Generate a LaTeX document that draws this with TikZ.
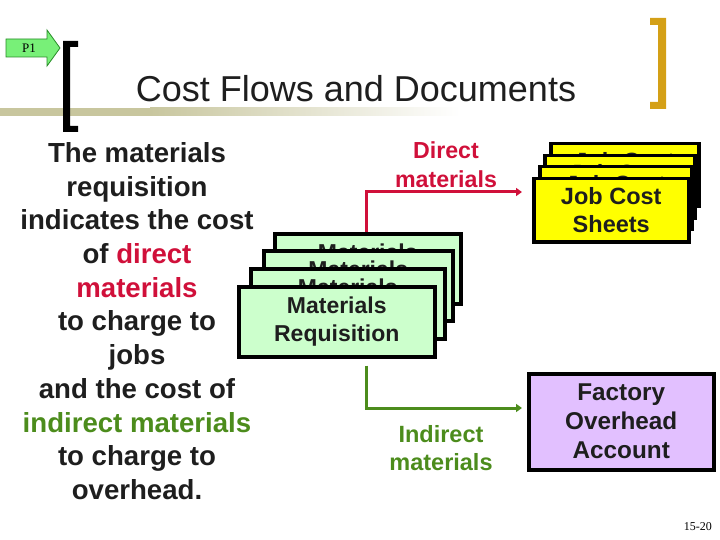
\documentclass[tikz,border=0pt]{standalone}
\usepackage{fontspec}
\setmainfont{Liberation Sans}
\newfontfamily\serifface{Liberation Serif}
\usetikzlibrary{arrows.meta}
\definecolor{crimsonc}{RGB}{208,16,58}
\definecolor{leafc}{RGB}{76,140,28}
\definecolor{matfill}{RGB}{204,255,204}
\definecolor{jobfill}{RGB}{255,255,0}
\definecolor{fohfill}{RGB}{226,192,255}
\definecolor{olivec}{RGB}{200,198,158}
\definecolor{goldc}{RGB}{212,160,23}
\definecolor{inkc}{RGB}{30,30,30}
\definecolor{pfill}{RGB}{120,240,120}
\definecolor{pdraw}{RGB}{40,140,40}
\begin{document}
\begin{tikzpicture}[x=1pt,y=-1pt,
  docbox/.style={draw=black, line width=3.5pt, anchor=north west, inner sep=0pt,
    align=center, text=inkc},
  matdoc/.style={docbox, fill=matfill, minimum height=70pt,
    font=\bfseries\fontsize{23}{28}\selectfont},
  jobdoc/.style={docbox, fill=jobfill, minimum height=63pt,
    font=\bfseries\fontsize{23.5}{28}\selectfont},
  fohdoc/.style={docbox, fill=fohfill, minimum height=96pt, minimum width=185pt,
    font=\bfseries\fontsize{24.3}{29}\selectfont},
  flowred/.style={draw=crimsonc, line width=3pt, -{Triangle[length=6pt,width=8pt]}},
  flowgreen/.style={draw=leafc, line width=3pt, -{Triangle[length=6pt,width=8pt]}},
  lbl/.style={inner sep=0pt, anchor=north, align=center}
]
\useasboundingbox (0,0) rectangle (720,540);

% title rule
\fill[olivec] (0,108) rectangle (150,116);
\shade[left color=olivec, right color=white] (150,108) rectangle (460,116);

% brackets
\fill[black] (63,41) -- (78,41) -- (78,47) -- (70,47) -- (70,126) -- (78,126)
  -- (78,132) -- (63,132) -- cycle;
\fill[goldc] (650,18) -- (666,18) -- (666,109) -- (650,109) -- (650,102)
  -- (658,102) -- (658,25) -- (650,25) -- cycle;

% P1 marker
\draw[fill=pfill, draw=pdraw, line width=0.8pt] (6,39) -- (47,39) -- (47,30)
  -- (60,48) -- (47,66) -- (47,57) -- (6,57) -- cycle;
\node[inner sep=0pt, anchor=base, font=\serifface\fontsize{13}{15}\selectfont]
  (p1) at (29,52.5) {P1};

% title
\node[inner sep=0pt, anchor=base, font=\fontsize{36}{43}\selectfont, text=inkc]
  (title) at (356,101.5) {Cost Flows and Documents};

% left explanatory text
\node[lbl, text=inkc, font=\bfseries\fontsize{27.6}{33.7}\selectfont]
  (expl) at (137,142.2) {The materials\\ requisition\\ indicates the cost\\
  of \textcolor{crimsonc}{direct}\\ \textcolor{crimsonc}{materials}\\
  to charge to\\ jobs\\ and the cost of\\
  \textcolor{leafc}{indirect materials}\\ to charge to\\ overhead.};

% materials requisition stack
\node[matdoc, minimum width=186pt] (mat4) at (273,232) {Materials\\ Requisition};
\node[matdoc, minimum width=189pt] (mat3) at (262,249) {Materials\\ Requisition};
\node[matdoc, minimum width=194pt] (mat2) at (249,267) {Materials\\ Requisition};
\node[matdoc, minimum width=196pt] (mat1) at (237,285) {Materials\\ Requisition};

% job cost sheet stack
\node[jobdoc, minimum width=148pt] (job4) at (549,142) {Job Cost\\ Sheets};
\node[jobdoc, minimum width=150pt] (job3) at (543,154) {Job Cost\\ Sheets};
\node[jobdoc, minimum width=152pt] (job2) at (538,165) {Job Cost\\ Sheets};
\node[jobdoc, minimum width=155pt] (job1) at (532,177) {Job Cost\\ Sheets};

% factory overhead
\node[fohdoc] (foh) at (527,372) {Factory\\ Overhead\\ Account};

% flows
\coordinate (dtip) at (522,192);
\coordinate (itip) at (522,408);
\draw[flowred] ([xshift=93pt]mat4.north west) |- (dtip);
\draw[flowgreen] ([xshift=129pt,yshift=-7pt]mat1.south west) |- (itip);

\node[lbl, text=crimsonc, font=\bfseries\fontsize{23.2}{29}\selectfont]
  (dlab) at (446,141.4) {Direct\\ materials};
\node[lbl, text=leafc, font=\bfseries\fontsize{23.5}{28}\selectfont]
  (ilab) at (441,425.2) {Indirect\\ materials};

% page number
\node[inner sep=0pt, anchor=base east, font=\serifface\fontsize{12}{14}\selectfont]
  (pg) at (712,530) {15-20};
\end{tikzpicture}
\end{document}
